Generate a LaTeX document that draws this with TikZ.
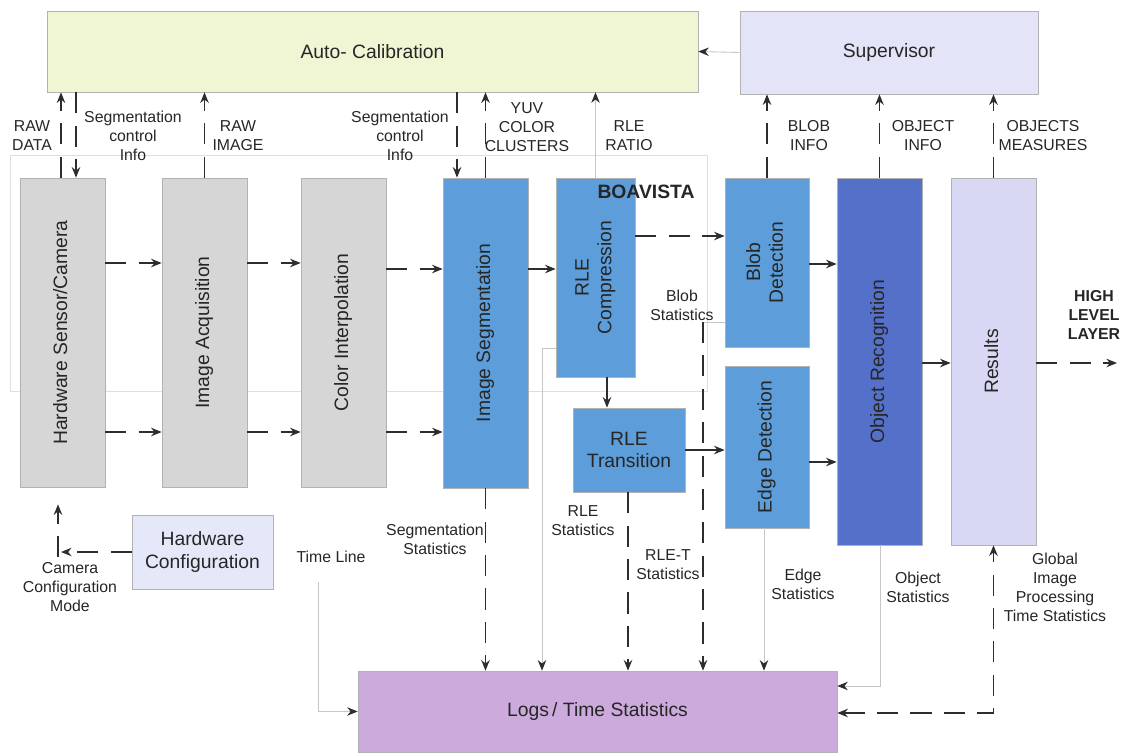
\documentclass[tikz,border=0pt]{standalone}
\usepackage{fontspec}
\setmainfont{Liberation Sans}
\usepackage{graphicx}
\usetikzlibrary{arrows.meta}

\definecolor{calgreen}{RGB}{240,246,212}
\definecolor{suplav}{RGB}{228,228,248}
\definecolor{hwgray}{RGB}{214,214,214}
\definecolor{segblue}{RGB}{92,157,218}
\definecolor{objblue}{RGB}{84,112,200}
\definecolor{reslav}{RGB}{216,216,244}
\definecolor{conflav}{RGB}{228,232,248}
\definecolor{logpurple}{RGB}{204,170,220}
\definecolor{linegray}{RGB}{45,45,45}

\newcommand{\vtext}[1]{\rotatebox{90}{\begin{tabular}{@{}c@{}}#1\end{tabular}}}

\begin{document}
\begin{tikzpicture}[x=0.02cm,y=-0.02cm]
                    \tikzstyle{blk}=[draw=gray!60,line width=0.4pt,inner sep=0pt,align=center,text=black!85,font=\fontsize{11}{13}\selectfont]
                    \tikzstyle{graybox}=[blk,fill=hwgray,minimum width=1.7cm,minimum height=6.18cm]
                    \tikzstyle{bluebox}=[blk,fill=segblue]
                    \tikzstyle{lbl}=[inner sep=0pt,align=center,text=black!85,font=\fontsize{9}{10.8}\selectfont]
                    \tikzstyle{bold lbl}=[lbl,font=\bfseries\fontsize{11}{13}\selectfont]
                    \tikzstyle{flow}=[draw=linegray,line width=1pt,-{Stealth[length=6pt,width=4.8pt]}]
                    \tikzstyle{dflow}=[flow,dash pattern=on 12pt off 7pt]
                    \tikzstyle{faint}=[draw=gray!45,line width=0.5pt,-{Stealth[length=6pt,width=4.8pt,color=linegray]}]
                    \useasboundingbox (0,0) rectangle (1127,754);
                    \draw[gray!25,line width=0.5pt] (10,155) rectangle (707,391);
                    \node[blk,fill=calgreen,minimum width=13.02cm,minimum height=1.62cm] (autocal) at (372.5,51.5) {Auto- Calibration};
                    \node[blk,fill=suplav,minimum width=5.96cm,minimum height=1.66cm] (supervisor) at (889,52.5) {Supervisor};
                    \node[graybox] (hwcam) at (62.5,332.5) {\vtext{Hardware Sensor/Camera}};
                    \node[graybox] (imgacq) at (204.5,332.5) {\vtext{Image Acquisition}};
                    \node[graybox] (colint) at (343.5,332.5) {\vtext{Color Interpolation}};
                    \node[bluebox,minimum width=1.7cm,minimum height=6.2cm] (imgseg) at (485.5,333) {\vtext{Image Segmentation}};
                    \node[bluebox,minimum width=1.58cm,minimum height=3.98cm] (rlecomp) at (595.5,277.5) {\vtext{RLE\\Compression}};
                    \node[bluebox,minimum width=2.24cm,minimum height=1.68cm] (rletrans) at (629,450) {RLE\\Transition};
                    \node[bluebox,minimum width=1.68cm,minimum height=3.38cm] (blob) at (767,262.5) {\vtext{Blob\\Detection}};
                    \node[bluebox,minimum width=1.68cm,minimum height=3.24cm] (edge) at (767,447) {\vtext{Edge Detection}};
                    \node[blk,fill=objblue,minimum width=1.7cm,minimum height=7.34cm] (objrec) at (879.5,361.5) {\vtext{Object Recognition}};
                    \node[blk,fill=reslav,minimum width=1.7cm,minimum height=7.34cm] (results) at (993.5,361.5) {\vtext{Results}};
                    \node[blk,fill=conflav,minimum width=2.82cm,minimum height=1.48cm] (hwconf) at (202.5,552) {Hardware\\Configuration};
                    \node[blk,fill=logpurple,minimum width=9.58cm,minimum height=1.62cm] (logs) at (597.5,711.5) {Logs\,/ Time Statistics};
                    \node[lbl] (rawdata) at (32,136) {RAW\\DATA};
                    \node[lbl] (segctrla) at (133,136) {Segmentation\\control\\Info};
                    \node[lbl] (rawimage) at (238,136) {RAW\\IMAGE};
                    \node[lbl] (segctrlb) at (400,136) {Segmentation\\control\\Info};
                    \node[lbl] (yuvclust) at (527,127) {YUV\\COLOR\\CLUSTERS};
                    \node[lbl] (rleratio) at (629,136) {RLE\\RATIO};
                    \node[lbl] (blobinfo) at (809,136) {BLOB\\INFO};
                    \node[lbl] (objinfo) at (923,136) {OBJECT\\INFO};
                    \node[lbl] (objmeas) at (1043,136) {OBJECTS\\MEASURES};
                    \node[bold lbl] (boavista) at (646,192) {BOAVISTA};
                    \node[lbl] (blobstat) at (682,305) {Blob\\Statistics};
                    \node[lbl,font=\bfseries\fontsize{9}{10.8}\selectfont] (highlvl) at (1094,315) {HIGH\\LEVEL\\LAYER};
                    \node[lbl] (segstat) at (435,539) {Segmentation\\Statistics};
                    \node[lbl] (rlestat) at (583,521) {RLE\\Statistics};
                    \node[lbl] (rletstat) at (668,565) {RLE-T\\Statistics};
                    \node[lbl] (edgestat) at (803,584) {Edge\\Statistics};
                    \node[lbl] (objstat) at (918,587) {Object\\Statistics};
                    \node[lbl] (globstat) at (1055,587) {Global\\Image\\Processing\\Time Statistics};
                    \node[lbl] (timeline) at (331,557) {Time Line};
                    \node[lbl] (camconf) at (70,587) {Camera\\Configuration\\Mode};
                    \coordinate (timestart) at (318,582);
                    \coordinate (highout) at (1117,363);
                    \draw[faint] (supervisor.west) -- (autocal.east);
                    \draw[dflow] (61,0 |- hwcam.north) -- (61,0 |- autocal.south);
                    \draw[dflow] (76,0 |- autocal.south) -- (76,0 |- hwcam.north);
                    \draw[dflow] (imgacq.north) -- (imgacq.north |- autocal.south);
                    \draw[dflow] (457,0 |- autocal.south) -- (457,0 |- imgseg.north);
                    \draw[dflow] (imgseg.north) -- (imgseg.north |- autocal.south);
                    \draw[faint] (rlecomp.north) -- (rlecomp.north |- autocal.south);
                    \draw[dflow] (blob.north) -- (blob.north |- supervisor.south);
                    \draw[dflow] (objrec.north) -- (objrec.north |- supervisor.south);
                    \draw[dflow] (results.north) -- (results.north |- supervisor.south);
                    \draw[dflow] (hwcam.east |- 0,263) -- (imgacq.west |- 0,263);
                    \draw[dflow] (hwcam.east |- 0,432) -- (imgacq.west |- 0,432);
                    \draw[dflow] (imgacq.east |- 0,263) -- (colint.west |- 0,263);
                    \draw[dflow] (imgacq.east |- 0,432) -- (colint.west |- 0,432);
                    \draw[dflow] (colint.east |- 0,269) -- (imgseg.west |- 0,269);
                    \draw[dflow] (colint.east |- 0,432) -- (imgseg.west |- 0,432);
                    \draw[flow] (imgseg.east |- 0,269) -- (rlecomp.west |- 0,269);
                    \draw[dflow] (rlecomp.east |- 0,236) -- (blob.west |- 0,236);
                    \draw[flow] (607,0 |- rlecomp.south) -- (607,0 |- rletrans.north);
                    \draw[flow] (rletrans.east) -- (edge.west |- rletrans.east);
                    \draw[flow] (blob.east |- 0,264) -- (objrec.west |- 0,264);
                    \draw[flow] (edge.east |- 0,462) -- (objrec.west |- 0,462);
                    \draw[flow] (objrec.east |- 0,363) -- (results.west |- 0,363);
                    \draw[dflow] (results.east |- highout) -- (highout);
                    \draw[dflow] (imgseg.south) -- (imgseg.south |- logs.north);
                    \draw[faint] (rlecomp.west |- 0,348) -| (542,0 |- logs.north);
                    \draw[dflow] (628,0 |- rletrans.south) -- (628,0 |- logs.north);
                    \draw[gray!45,line width=0.5pt] (blob.west |- 0,322) -- (703,322);
                    \draw[dflow] (703,322) -- (703,0 |- logs.north);
                    \draw[faint] (764,0 |- edge.south) -- (764,0 |- logs.north);
                    \draw[faint] (880,0 |- objrec.south) |- (logs.east |- 0,686);
                    \draw[dflow,{Stealth[length=6pt,width=4.8pt]}-{Stealth[length=6pt,width=4.8pt]}] (logs.east |- 0,713) -| (results.south);
                    \draw[faint] (timestart) |- (logs.west);
                    \draw[dflow] (hwconf.west) -- (61,0 |- hwconf.west);
                    \draw[dflow,shorten >=0.34cm] (58,557) -- (58,0 |- hwcam.south);
                \end{tikzpicture}
\end{document}
